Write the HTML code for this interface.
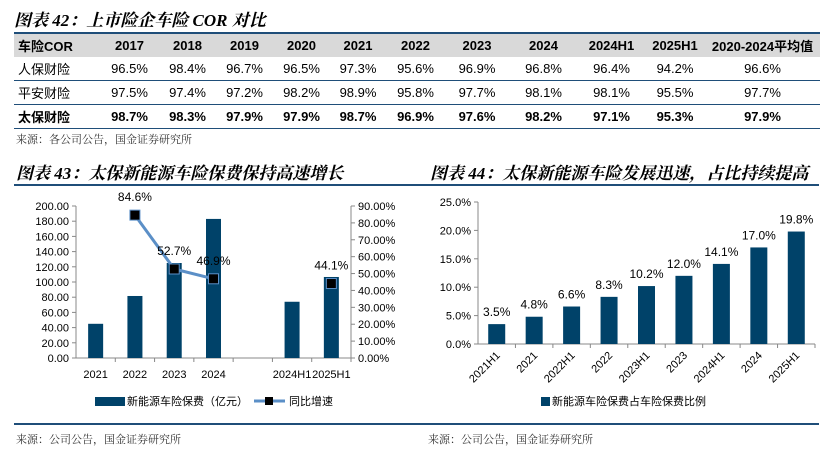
<!DOCTYPE html>
<html><head><meta charset="utf-8"><style>
body{margin:0;width:833px;height:450px;background:#fff;font-family:"Liberation Sans","Noto Sans CJK SC",sans-serif;overflow:hidden;position:relative}
.t{position:absolute;font-style:italic;font-weight:bold;font-size:17px;font-family:"Liberation Serif","Noto Serif CJK SC",serif;color:#000}
.src{position:absolute;font-size:11px;font-family:"Liberation Serif","Noto Serif CJK SC",serif;color:#333}
table{position:absolute;left:14px;top:32px;width:806px;border-collapse:collapse;font-size:13px;table-layout:fixed}
th{background:#d9d9d9;height:23px;font-weight:bold;border-top:2px solid #1f4e79;padding:0}
td{height:23px;text-align:center;border-bottom:1.5px solid #1f4e79;padding:0}
td:first-child,th:first-child{text-align:left;padding-left:4px}
tr.b td{font-weight:bold}
.hl{position:absolute;height:2px;background:#1f4e79}
</style></head><body>
<div class="t" style="left:14px;top:6px">图表 42：上市险企车险 COR 对比</div>
<table>
<colgroup><col style="width:86px"><col style="width:59px"><col style="width:57px"><col style="width:57px"><col style="width:57px"><col style="width:56px"><col style="width:59px"><col style="width:64px"><col style="width:69px"><col style="width:67px"><col style="width:60px"><col style="width:115px"></colgroup>
<tr><th>车险COR</th><th>2017</th><th>2018</th><th>2019</th><th>2020</th><th>2021</th><th>2022</th><th>2023</th><th>2024</th><th>2024H1</th><th>2025H1</th><th>2020-2024平均值</th></tr>
<tr><td>人保财险</td><td>96.5%</td><td>98.4%</td><td>96.7%</td><td>96.5%</td><td>97.3%</td><td>95.6%</td><td>96.9%</td><td>96.8%</td><td>96.4%</td><td>94.2%</td><td>96.6%</td></tr>
<tr><td>平安财险</td><td>97.5%</td><td>97.4%</td><td>97.2%</td><td>98.2%</td><td>98.9%</td><td>95.8%</td><td>97.7%</td><td>98.1%</td><td>98.1%</td><td>95.5%</td><td>97.7%</td></tr>
<tr class="b"><td>太保财险</td><td>98.7%</td><td>98.3%</td><td>97.9%</td><td>97.9%</td><td>98.7%</td><td>96.9%</td><td>97.6%</td><td>98.2%</td><td>97.1%</td><td>95.3%</td><td>97.9%</td></tr>
</table>
<div class="src" style="left:16px;top:131px">来源：各公司公告，国金证券研究所</div>

<div class="t" style="left:16px;top:159px">图表 43：太保新能源车险保费保持高速增长</div>
<div class="hl" style="left:14px;top:184px;width:406px"></div>
<div class="t" style="left:430px;top:159px">图表 44：太保新能源车险发展迅速，占比持续提高</div>
<div class="hl" style="left:420px;top:184px;width:399px"></div>
<div class="hl" style="left:14px;top:423px;width:406px;height:1.5px"></div>
<div class="hl" style="left:420px;top:423px;width:399px;height:1.5px"></div>
<div class="src" style="left:16px;top:431px">来源：公司公告，国金证券研究所</div>
<div class="src" style="left:428px;top:431px">来源：公司公告，国金证券研究所</div>

<svg id="c43" width="833" height="450" style="position:absolute;left:0;top:0" font-family="Liberation Sans, Noto Sans CJK SC, sans-serif" font-size="11"></svg>
<script>
const cats43=["2021","2022","2023","2024","","2024H1","2025H1"];
const prem43=[45,81.6,125,183,null,74,106.6];
const growth43=[null,84.6,52.7,46.9,null,null,44.1];
const leftTicks=["0.00","20.00","40.00","60.00","80.00","100.00","120.00","140.00","160.00","180.00","200.00"];
const rightTicks=["0.00%","10.00%","20.00%","30.00%","40.00%","50.00%","60.00%","70.00%","80.00%","90.00%"];
const cats44=["2021H1","2021","2022H1","2022","2023H1","2023","2024H1","2024","2025H1"];
const share44=[3.5,4.8,6.6,8.3,10.2,12.0,14.1,17.0,19.8];
const ticks44=["0.0%","5.0%","10.0%","15.0%","20.0%","25.0%"];
const NS="http://www.w3.org/2000/svg";
const svg=document.getElementById('c43');
function mk(t,a,txt){const e=document.createElementNS(NS,t);for(const k in a)e.setAttribute(k,a[k]);if(txt!==undefined)e.textContent=txt;svg.appendChild(e);return e;}
const C="#004269";
const x0=76,x1=351,yb=358,yt=206,sw=(x1-x0)/cats43.length;
const yL=v=>yb-v/200*(yb-yt), yR=v=>yb-v/90*(yb-yt), xc=i=>x0+sw*(i+0.5);
let e;
leftTicks.forEach((t,i)=>{const y=yb-i*(yb-yt)/10;e=mk('text',{x:x0-7,y:y+4,'text-anchor':'end'},t);mk('line',{x1:x0-4,x2:x0,y1:y,y2:y,stroke:'#888'});});
rightTicks.forEach((t,i)=>{const y=yb-i*(yb-yt)/9;e=mk('text',{x:x1+7,y:y+4},t);mk('line',{x1:x1,x2:x1+4,y1:y,y2:y,stroke:'#888'});});
mk('line',{x1:x0,x2:x0,y1:yt,y2:yb,stroke:'#888'});mk('line',{x1:x1,x2:x1,y1:yt,y2:yb,stroke:'#888'});mk('line',{x1:x0,x2:x1,y1:yb,y2:yb,stroke:'#888'});
cats43.forEach((c,i)=>{mk('line',{x1:x0+sw*(i+1),x2:x0+sw*(i+1),y1:yb,y2:yb+4,stroke:'#888'});
 if(prem43[i]!=null){e=mk('rect',{x:xc(i)-7.5,y:yL(prem43[i]),width:15,height:yb-yL(prem43[i]),fill:C});}
 e=mk('text',{x:xc(i),y:yb+20,'text-anchor':'middle'},c);});
let pts=[];growth43.forEach((g,i)=>{if(g!=null&&i<4)pts.push(xc(i)+','+yR(g));});
e=mk('polyline',{points:pts.join(' '),fill:'none',stroke:'#5b8fc7','stroke-width':3});
growth43.forEach((g,i)=>{if(g==null)return;e=mk('rect',{x:xc(i)-5,y:yR(g)-5,width:10,height:10,fill:'#000',stroke:'#5b8fc7'});
 e=mk('text',{x:xc(i),y:yR(g)-14,'text-anchor':'middle','font-size':12},g.toFixed(1)+'%');});
e=mk('rect',{x:95,y:397,width:30,height:9,fill:C});
e=mk('text',{x:127,y:405},'新能源车险保费（亿元）');
mk('line',{x1:254,x2:285,y1:401,y2:401,stroke:'#5b8fc7','stroke-width':3});mk('rect',{x:265,y:397,width:8,height:8,fill:'#000'});
e=mk('text',{x:289,y:405},'同比增速');
const a0=478,a1=815,b0=344,b1=202,sw2=(a1-a0)/cats44.length;
const y4=v=>b0-v/25*(b0-b1),x4=i=>a0+sw2*(i+0.5);
ticks44.forEach((t,i)=>{const y=b0-i*(b0-b1)/5;e=mk('text',{x:a0-7,y:y+4,'text-anchor':'end'},t);mk('line',{x1:a0-4,x2:a0,y1:y,y2:y,stroke:'#888'});});
mk('line',{x1:a0,x2:a0,y1:b1,y2:b0,stroke:'#888'});mk('line',{x1:a0,x2:a1,y1:b0,y2:b0,stroke:'#888'});
cats44.forEach((c,i)=>{mk('line',{x1:a0+sw2*(i+1),x2:a0+sw2*(i+1),y1:b0,y2:b0+4,stroke:'#888'});
 e=mk('rect',{x:x4(i)-8.5,y:y4(share44[i]),width:17,height:b0-y4(share44[i]),fill:C});
 e=mk('text',{x:x4(i),y:y4(share44[i])-8,'text-anchor':'middle','font-size':12},share44[i].toFixed(1)+'%');
 e=mk('text',{x:x4(i)+4,y:b0+12,'text-anchor':'end',transform:`rotate(-45 ${x4(i)+4} ${b0+12})`},c);});
e=mk('rect',{x:541,y:397,width:9,height:9,fill:C});
e=mk('text',{x:552,y:405},'新能源车险保费占车险保费比例');
</script>
</body></html>
